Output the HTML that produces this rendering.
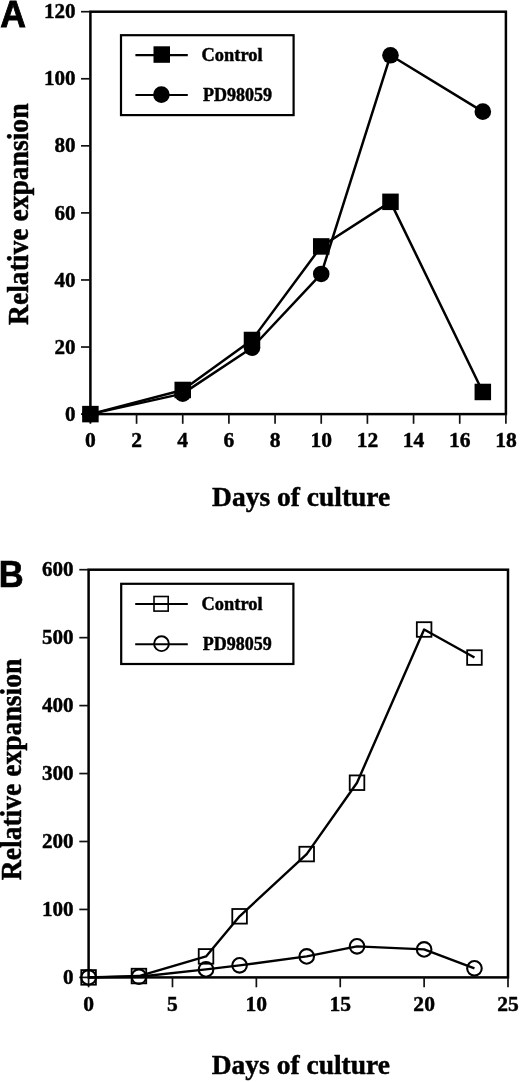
<!DOCTYPE html>
<html><head><meta charset="utf-8"><title>Figure</title>
<style>html,body{margin:0;padding:0;background:#fff;width:520px;height:1082px;overflow:hidden}
svg{display:block;filter:grayscale(1);font-family:"Liberation Serif",serif}</style></head>
<body>
<svg width="520" height="1082" viewBox="0 0 520 1082">
<rect width="520" height="1082" fill="#fff"/>
<rect x="90.4" y="11.7" width="415.5" height="402.4" fill="none" stroke="#000" stroke-width="2.5"/>
<line x1="81" y1="414.1" x2="90.4" y2="414.1" stroke="#111" stroke-width="1.7"/>
<text transform="translate(75.6,420.7) scale(0.96,1)" text-anchor="end" font-family="&apos;Liberation Serif&apos;, serif" font-weight="bold" stroke="#000" stroke-width="0.45" font-size="22">0</text>
<line x1="81" y1="347.03" x2="90.4" y2="347.03" stroke="#111" stroke-width="1.7"/>
<text transform="translate(75.6,353.63) scale(0.96,1)" text-anchor="end" font-family="&apos;Liberation Serif&apos;, serif" font-weight="bold" stroke="#000" stroke-width="0.45" font-size="22">20</text>
<line x1="81" y1="279.97" x2="90.4" y2="279.97" stroke="#111" stroke-width="1.7"/>
<text transform="translate(75.6,286.57) scale(0.96,1)" text-anchor="end" font-family="&apos;Liberation Serif&apos;, serif" font-weight="bold" stroke="#000" stroke-width="0.45" font-size="22">40</text>
<line x1="81" y1="212.9" x2="90.4" y2="212.9" stroke="#111" stroke-width="1.7"/>
<text transform="translate(75.6,219.5) scale(0.96,1)" text-anchor="end" font-family="&apos;Liberation Serif&apos;, serif" font-weight="bold" stroke="#000" stroke-width="0.45" font-size="22">60</text>
<line x1="81" y1="145.83" x2="90.4" y2="145.83" stroke="#111" stroke-width="1.7"/>
<text transform="translate(75.6,152.43) scale(0.96,1)" text-anchor="end" font-family="&apos;Liberation Serif&apos;, serif" font-weight="bold" stroke="#000" stroke-width="0.45" font-size="22">80</text>
<line x1="81" y1="78.77" x2="90.4" y2="78.77" stroke="#111" stroke-width="1.7"/>
<text transform="translate(75.6,85.37) scale(0.96,1)" text-anchor="end" font-family="&apos;Liberation Serif&apos;, serif" font-weight="bold" stroke="#000" stroke-width="0.45" font-size="22">100</text>
<line x1="81" y1="11.7" x2="90.4" y2="11.7" stroke="#111" stroke-width="1.7"/>
<text transform="translate(75.6,18.3) scale(0.96,1)" text-anchor="end" font-family="&apos;Liberation Serif&apos;, serif" font-weight="bold" stroke="#000" stroke-width="0.45" font-size="22">120</text>
<line x1="90.4" y1="414.1" x2="90.4" y2="423.8" stroke="#111" stroke-width="1.7"/>
<text transform="translate(90.4,447) scale(0.98,1)" text-anchor="middle" font-family="&apos;Liberation Serif&apos;, serif" font-weight="bold" stroke="#000" stroke-width="0.45" font-size="22">0</text>
<line x1="136.57" y1="414.1" x2="136.57" y2="423.8" stroke="#111" stroke-width="1.7"/>
<text transform="translate(136.57,447) scale(0.98,1)" text-anchor="middle" font-family="&apos;Liberation Serif&apos;, serif" font-weight="bold" stroke="#000" stroke-width="0.45" font-size="22">2</text>
<line x1="182.73" y1="414.1" x2="182.73" y2="423.8" stroke="#111" stroke-width="1.7"/>
<text transform="translate(182.73,447) scale(0.98,1)" text-anchor="middle" font-family="&apos;Liberation Serif&apos;, serif" font-weight="bold" stroke="#000" stroke-width="0.45" font-size="22">4</text>
<line x1="228.9" y1="414.1" x2="228.9" y2="423.8" stroke="#111" stroke-width="1.7"/>
<text transform="translate(228.9,447) scale(0.98,1)" text-anchor="middle" font-family="&apos;Liberation Serif&apos;, serif" font-weight="bold" stroke="#000" stroke-width="0.45" font-size="22">6</text>
<line x1="275.07" y1="414.1" x2="275.07" y2="423.8" stroke="#111" stroke-width="1.7"/>
<text transform="translate(275.07,447) scale(0.98,1)" text-anchor="middle" font-family="&apos;Liberation Serif&apos;, serif" font-weight="bold" stroke="#000" stroke-width="0.45" font-size="22">8</text>
<line x1="321.23" y1="414.1" x2="321.23" y2="423.8" stroke="#111" stroke-width="1.7"/>
<text transform="translate(321.23,447) scale(0.98,1)" text-anchor="middle" font-family="&apos;Liberation Serif&apos;, serif" font-weight="bold" stroke="#000" stroke-width="0.45" font-size="22">10</text>
<line x1="367.4" y1="414.1" x2="367.4" y2="423.8" stroke="#111" stroke-width="1.7"/>
<text transform="translate(367.4,447) scale(0.98,1)" text-anchor="middle" font-family="&apos;Liberation Serif&apos;, serif" font-weight="bold" stroke="#000" stroke-width="0.45" font-size="22">12</text>
<line x1="413.57" y1="414.1" x2="413.57" y2="423.8" stroke="#111" stroke-width="1.7"/>
<text transform="translate(413.57,447) scale(0.98,1)" text-anchor="middle" font-family="&apos;Liberation Serif&apos;, serif" font-weight="bold" stroke="#000" stroke-width="0.45" font-size="22">14</text>
<line x1="459.73" y1="414.1" x2="459.73" y2="423.8" stroke="#111" stroke-width="1.7"/>
<text transform="translate(459.73,447) scale(0.98,1)" text-anchor="middle" font-family="&apos;Liberation Serif&apos;, serif" font-weight="bold" stroke="#000" stroke-width="0.45" font-size="22">16</text>
<line x1="505.9" y1="414.1" x2="505.9" y2="423.8" stroke="#111" stroke-width="1.7"/>
<text transform="translate(505.9,447) scale(0.98,1)" text-anchor="middle" font-family="&apos;Liberation Serif&apos;, serif" font-weight="bold" stroke="#000" stroke-width="0.45" font-size="22">18</text>
<polyline fill="none" stroke="#000" stroke-width="2.5" stroke-linejoin="round" points="90.4,414.1 182.73,389.96 251.98,339.99 321.23,246.43 390.48,201.83 482.82,391.97"/>
<polyline fill="none" stroke="#000" stroke-width="2.5" stroke-linejoin="round" points="90.4,414.1 182.73,393.64 251.98,347.7 321.23,273.93 390.48,55.29 482.82,111.63"/>
<rect x="82.15" y="405.85" width="16.5" height="16.5" fill="#000"/>
<rect x="174.48" y="381.71" width="16.5" height="16.5" fill="#000"/>
<rect x="243.73" y="331.74" width="16.5" height="16.5" fill="#000"/>
<rect x="312.98" y="238.18" width="16.5" height="16.5" fill="#000"/>
<rect x="382.23" y="193.58" width="16.5" height="16.5" fill="#000"/>
<rect x="474.57" y="383.72" width="16.5" height="16.5" fill="#000"/>
<circle cx="90.4" cy="414.1" r="8.3" fill="#000"/>
<circle cx="182.73" cy="393.64" r="8.3" fill="#000"/>
<circle cx="251.98" cy="347.7" r="8.3" fill="#000"/>
<circle cx="321.23" cy="273.93" r="8.3" fill="#000"/>
<circle cx="390.48" cy="55.29" r="8.3" fill="#000"/>
<circle cx="482.82" cy="111.63" r="8.3" fill="#000"/>
<rect x="121" y="35.2" width="172.6" height="79.9" fill="none" stroke="#000" stroke-width="2.2"/>
<line x1="135.4" y1="55.1" x2="187.8" y2="55.1" stroke="#000" stroke-width="2.2"/>
<rect x="153.5" y="46.3" width="16.5" height="16.5" fill="#000"/>
<line x1="135.4" y1="95" x2="187.8" y2="95" stroke="#000" stroke-width="2.2"/>
<circle cx="161.4" cy="94.6" r="8.3" fill="#000"/>
<text x="201.6" y="60.8" font-family="&apos;Liberation Serif&apos;, serif" font-weight="bold" stroke="#000" stroke-width="0.45" font-size="18.4">Control</text>
<text x="202.99" y="100.9" font-family="&apos;Liberation Serif&apos;, serif" font-weight="bold" stroke="#000" stroke-width="0.45" font-size="18">PD98059</text>
<text x="212.02" y="506" font-family="&apos;Liberation Serif&apos;, serif" font-weight="bold" stroke="#000" stroke-width="0.45" font-size="27.5">Days of culture</text>
<text transform="translate(27.7,325) rotate(-90) scale(1,1.1)" font-family="&apos;Liberation Serif&apos;, serif" font-weight="bold" stroke="#000" stroke-width="0.45" font-size="27.6">Relative expansion</text>
<text transform="translate(0.3,26.5) scale(0.99,1.03)" font-family="&apos;Liberation Sans&apos;, sans-serif" font-weight="bold" stroke="#000" stroke-width="0.85" font-size="35.9">A</text>
<rect x="88.6" y="569.7" width="419.4" height="407.7" fill="none" stroke="#000" stroke-width="2.5"/>
<line x1="79.3" y1="977.4" x2="88.6" y2="977.4" stroke="#111" stroke-width="1.7"/>
<text transform="translate(73.6,984) scale(0.96,1)" text-anchor="end" font-family="&apos;Liberation Serif&apos;, serif" font-weight="bold" stroke="#000" stroke-width="0.45" font-size="22">0</text>
<line x1="79.3" y1="909.45" x2="88.6" y2="909.45" stroke="#111" stroke-width="1.7"/>
<text transform="translate(73.6,916.05) scale(0.96,1)" text-anchor="end" font-family="&apos;Liberation Serif&apos;, serif" font-weight="bold" stroke="#000" stroke-width="0.45" font-size="22">100</text>
<line x1="79.3" y1="841.5" x2="88.6" y2="841.5" stroke="#111" stroke-width="1.7"/>
<text transform="translate(73.6,848.1) scale(0.96,1)" text-anchor="end" font-family="&apos;Liberation Serif&apos;, serif" font-weight="bold" stroke="#000" stroke-width="0.45" font-size="22">200</text>
<line x1="79.3" y1="773.55" x2="88.6" y2="773.55" stroke="#111" stroke-width="1.7"/>
<text transform="translate(73.6,780.15) scale(0.96,1)" text-anchor="end" font-family="&apos;Liberation Serif&apos;, serif" font-weight="bold" stroke="#000" stroke-width="0.45" font-size="22">300</text>
<line x1="79.3" y1="705.6" x2="88.6" y2="705.6" stroke="#111" stroke-width="1.7"/>
<text transform="translate(73.6,712.2) scale(0.96,1)" text-anchor="end" font-family="&apos;Liberation Serif&apos;, serif" font-weight="bold" stroke="#000" stroke-width="0.45" font-size="22">400</text>
<line x1="79.3" y1="637.65" x2="88.6" y2="637.65" stroke="#111" stroke-width="1.7"/>
<text transform="translate(73.6,644.25) scale(0.96,1)" text-anchor="end" font-family="&apos;Liberation Serif&apos;, serif" font-weight="bold" stroke="#000" stroke-width="0.45" font-size="22">500</text>
<line x1="79.3" y1="569.7" x2="88.6" y2="569.7" stroke="#111" stroke-width="1.7"/>
<text transform="translate(73.6,576.3) scale(0.96,1)" text-anchor="end" font-family="&apos;Liberation Serif&apos;, serif" font-weight="bold" stroke="#000" stroke-width="0.45" font-size="22">600</text>
<line x1="88.6" y1="977.4" x2="88.6" y2="987.3" stroke="#111" stroke-width="1.7"/>
<text transform="translate(88.6,1010.8) scale(0.98,1)" text-anchor="middle" font-family="&apos;Liberation Serif&apos;, serif" font-weight="bold" stroke="#000" stroke-width="0.45" font-size="22">0</text>
<line x1="172.48" y1="977.4" x2="172.48" y2="987.3" stroke="#111" stroke-width="1.7"/>
<text transform="translate(172.48,1010.8) scale(0.98,1)" text-anchor="middle" font-family="&apos;Liberation Serif&apos;, serif" font-weight="bold" stroke="#000" stroke-width="0.45" font-size="22">5</text>
<line x1="256.36" y1="977.4" x2="256.36" y2="987.3" stroke="#111" stroke-width="1.7"/>
<text transform="translate(256.36,1010.8) scale(0.98,1)" text-anchor="middle" font-family="&apos;Liberation Serif&apos;, serif" font-weight="bold" stroke="#000" stroke-width="0.45" font-size="22">10</text>
<line x1="340.24" y1="977.4" x2="340.24" y2="987.3" stroke="#111" stroke-width="1.7"/>
<text transform="translate(340.24,1010.8) scale(0.98,1)" text-anchor="middle" font-family="&apos;Liberation Serif&apos;, serif" font-weight="bold" stroke="#000" stroke-width="0.45" font-size="22">15</text>
<line x1="424.12" y1="977.4" x2="424.12" y2="987.3" stroke="#111" stroke-width="1.7"/>
<text transform="translate(424.12,1010.8) scale(0.98,1)" text-anchor="middle" font-family="&apos;Liberation Serif&apos;, serif" font-weight="bold" stroke="#000" stroke-width="0.45" font-size="22">20</text>
<line x1="508" y1="977.4" x2="508" y2="987.3" stroke="#111" stroke-width="1.7"/>
<text transform="translate(508,1010.8) scale(0.98,1)" text-anchor="middle" font-family="&apos;Liberation Serif&apos;, serif" font-weight="bold" stroke="#000" stroke-width="0.45" font-size="22">25</text>
<polyline fill="none" stroke="#000" stroke-width="2.4" stroke-linejoin="round" points="88.6,977.4 138.93,976.04 206.03,956.4 239.58,916.31 306.69,854.07 357.02,782.72 424.12,629.5 474.45,657.56"/>
<polyline fill="none" stroke="#000" stroke-width="2.4" stroke-linejoin="round" points="88.6,977.4 138.93,976.72 206.03,969.38 239.58,965.37 306.69,956.4 357.02,946.35 424.12,949.4 474.45,968.36"/>
<rect x="81.3" y="970.1" width="14.6" height="14.6" fill="none" stroke="#000" stroke-width="1.8"/>
<rect x="131.63" y="968.74" width="14.6" height="14.6" fill="none" stroke="#000" stroke-width="1.8"/>
<rect x="198.73" y="949.1" width="14.6" height="14.6" fill="none" stroke="#000" stroke-width="1.8"/>
<rect x="232.28" y="909.01" width="14.6" height="14.6" fill="none" stroke="#000" stroke-width="1.8"/>
<rect x="299.39" y="846.77" width="14.6" height="14.6" fill="none" stroke="#000" stroke-width="1.8"/>
<rect x="349.72" y="775.42" width="14.6" height="14.6" fill="none" stroke="#000" stroke-width="1.8"/>
<rect x="416.82" y="622.2" width="14.6" height="14.6" fill="none" stroke="#000" stroke-width="1.8"/>
<rect x="467.15" y="650.26" width="14.6" height="14.6" fill="none" stroke="#000" stroke-width="1.8"/>
<circle cx="88.6" cy="977.4" r="7.3" fill="none" stroke="#000" stroke-width="2.1"/>
<circle cx="138.93" cy="976.72" r="7.3" fill="none" stroke="#000" stroke-width="2.1"/>
<circle cx="206.03" cy="969.38" r="7.3" fill="none" stroke="#000" stroke-width="2.1"/>
<circle cx="239.58" cy="965.37" r="7.3" fill="none" stroke="#000" stroke-width="2.1"/>
<circle cx="306.69" cy="956.4" r="7.3" fill="none" stroke="#000" stroke-width="2.1"/>
<circle cx="357.02" cy="946.35" r="7.3" fill="none" stroke="#000" stroke-width="2.1"/>
<circle cx="424.12" cy="949.4" r="7.3" fill="none" stroke="#000" stroke-width="2.1"/>
<circle cx="474.45" cy="968.36" r="7.3" fill="none" stroke="#000" stroke-width="2.1"/>
<rect x="121.2" y="583.8" width="172.2" height="80.2" fill="none" stroke="#000" stroke-width="2.2"/>
<line x1="135.2" y1="604" x2="187.8" y2="604" stroke="#000" stroke-width="2"/>
<rect x="154" y="596.5" width="14.2" height="14.6" fill="none" stroke="#000" stroke-width="1.6"/>
<line x1="135.2" y1="644.3" x2="187.8" y2="644.3" stroke="#000" stroke-width="2"/>
<circle cx="161.5" cy="643.7" r="7.4" fill="none" stroke="#000" stroke-width="1.9"/>
<text x="201.6" y="610.3" font-family="&apos;Liberation Serif&apos;, serif" font-weight="bold" stroke="#000" stroke-width="0.45" font-size="18.4">Control</text>
<text x="202.69" y="650.4" font-family="&apos;Liberation Serif&apos;, serif" font-weight="bold" stroke="#000" stroke-width="0.45" font-size="18">PD98059</text>
<text x="211.72" y="1073.8" font-family="&apos;Liberation Serif&apos;, serif" font-weight="bold" stroke="#000" stroke-width="0.45" font-size="27.5">Days of culture</text>
<text transform="translate(21.4,880.2) rotate(-90) scale(1,1.1)" font-family="&apos;Liberation Serif&apos;, serif" font-weight="bold" stroke="#000" stroke-width="0.45" font-size="27.6">Relative expansion</text>
<text transform="translate(-1.3,586.6) scale(0.945,1)" font-family="&apos;Liberation Sans&apos;, sans-serif" font-weight="bold" stroke="#000" stroke-width="0.7" font-size="36.5">B</text>
</svg>
</body></html>
